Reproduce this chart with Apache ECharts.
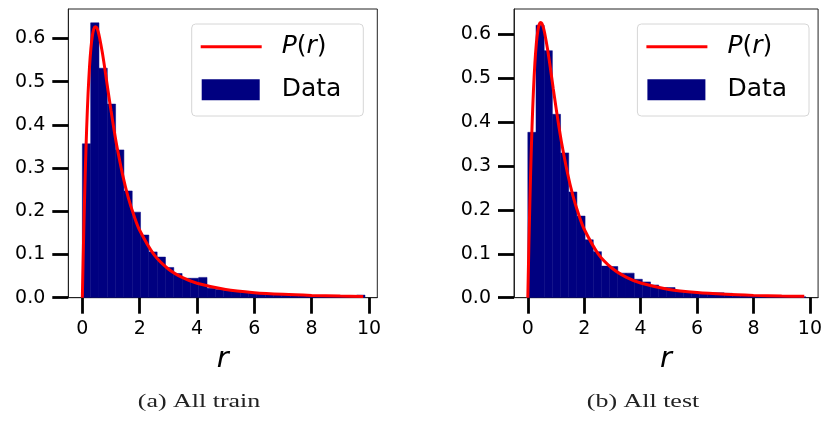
<!DOCTYPE html>
<html>
<head>
<meta charset="utf-8">
<script src="https://cdn.jsdelivr.net/npm/echarts@6/dist/echarts.min.js"></script>
<style>html,body{margin:0;padding:0;background:#fff;}#c{width:825px;height:433px;}</style>
</head>
<body>
<div id="c"></div>
<script>
// ---- data ----
const binStart = 0;
const binWidth = 0.29;
const trainHist = [0.356, 0.636, 0.531, 0.448, 0.342, 0.247, 0.198, 0.145, 0.106, 0.094,
  0.070, 0.056, 0.045, 0.045, 0.047, 0.022, 0.019, 0.017, 0.015, 0.013,
  0.012, 0.010, 0.009, 0.008, 0.007, 0.006, 0.006, 0.005, 0.004, 0.004,
  0.003, 0.003, 0.003, 0.006];
const testHist = [0.377, 0.621, 0.563, 0.418, 0.330, 0.241, 0.186, 0.132, 0.105, 0.072,
  0.071, 0.056, 0.056, 0.042, 0.036, 0.029, 0.023, 0.023, 0.013, 0.012,
  0.012, 0.011, 0.011, 0.011, 0.010, 0.005, 0.005, 0.004, 0.004, 0.003,
  0.003, 0.003, 0.002, 0.002];
const curveR = [0, 0.025, 0.05, 0.1, 0.15, 0.2, 0.25, 0.3, 0.35, 0.4, 0.45, 0.5, 0.55, 0.6, 0.7, 0.8, 0.9, 1.0, 1.1, 1.2, 1.4, 1.6, 1.8, 2.0, 2.5, 3.0, 3.5, 4.0, 5.0, 6.0, 7.0, 8.0, 9.0, 9.8];
const curveP = [0, 0.081, 0.156, 0.286, 0.391, 0.473, 0.534, 0.578, 0.606, 0.622, 0.627, 0.625, 0.616, 0.602, 0.566, 0.523, 0.477, 0.433, 0.391, 0.352, 0.286, 0.232, 0.190, 0.156, 0.0995, 0.0665, 0.0463, 0.0334, 0.0189, 0.0117, 0.0077, 0.0053, 0.00385, 0.00303];
const xTicks = [0, 2, 4, 6, 8, 10];
const yTicks = [0, 0.1, 0.2, 0.3, 0.4, 0.5, 0.6];
const captions = ['(a) All train', '(b) All test'];
const seriesNames = ['P(r)', 'Data'];

// ---- build ----
const FONT = 'DejaVu Sans';
const BAR = '#000080';
const RED = '#ff0000';
function histData(h) { return h.map((v, i) => [binStart + i * binWidth, binStart + (i + 1) * binWidth, v]); }
const curveData = curveR.map((r, i) => [r, curveP[i]]);

function renderBin(params, api) {
  const p0 = api.coord([api.value(0), 0]);
  const p1 = api.coord([api.value(1), api.value(2)]);
  return { type: 'rect', shape: { x: p0[0], y: p1[1], width: p1[0] - p0[0], height: p0[1] - p1[1] },
    style: { fill: BAR, stroke: BAR, lineWidth: 0.5 } };
}

const panels = [
  { left: 68.3, width: 309, ymax: 0.668, hist: trainHist, cap: captions[0], capX: 199 },
  { left: 514, width: 308.7, ymax: 0.658, hist: testHist, cap: captions[1], capX: 643 }
];
const TOP = 9, H = 288.7;

const grids = [], xAxes = [], yAxes = [], series = [], legends = [], graphics = [];
panels.forEach((p, k) => {
  grids.push({ left: p.left, top: TOP, width: p.width, height: H, show: true, borderColor: '#222', borderWidth: 1, containLabel: false });
  xAxes.push({ type: 'value', gridIndex: k, min: -0.49, max: 10.29,
    axisLine: { show: true, onZero: false, lineStyle: { color: '#222', width: 1 } },
    axisTick: { show: true, inside: false, length: 16, customValues: xTicks, lineStyle: { color: '#000', width: 2.8 } },
    axisLabel: { customValues: xTicks, margin: 22, fontSize: 19, fontFamily: FONT, color: '#000', formatter: v => String(v) },
    splitLine: { show: false },
    name: 'r', nameLocation: 'middle', nameGap: 47,
    nameTextStyle: { fontSize: 29, fontStyle: 'italic', fontFamily: FONT, color: '#000' } });
  yAxes.push({ type: 'value', gridIndex: k, min: 0, max: p.ymax,
    axisLine: { show: true, onZero: false, lineStyle: { color: '#222', width: 1 } },
    axisTick: { show: true, inside: false, length: 16, customValues: yTicks, lineStyle: { color: '#000', width: 2.8 } },
    axisLabel: { customValues: yTicks, margin: 23, fontSize: 19, fontFamily: FONT, color: '#000', formatter: v => v.toFixed(1) },
    splitLine: { show: false } });
  series.push({ name: seriesNames[1], type: 'custom', xAxisIndex: k, yAxisIndex: k, renderItem: renderBin,
    encode: { x: [0, 1], y: 2 }, data: histData(p.hist), itemStyle: { color: BAR }, z: 2, clip: true });
  series.push({ name: seriesNames[0], type: 'line', xAxisIndex: k, yAxisIndex: k, data: curveData,
    smooth: 0.3, symbol: 'none', lineStyle: { color: RED, width: 3 }, itemStyle: { color: RED }, z: 3 });

  const dx = p.left - 68.3;
  const rich = {
    s: { width: 15 },
    i: { fontStyle: 'italic', fontSize: 25, fontFamily: FONT, color: '#000' },
    n: { fontSize: 25, fontFamily: FONT, color: '#000' }
  };
  legends.push({ left: 200.7 + dx, top: 31.7, padding: 0, itemWidth: 61, itemHeight: 3, z: 20,
    data: [{ name: seriesNames[0], icon: 'rect', itemStyle: { color: RED } }], selectedMode: false,
    formatter: () => '{s|}{i|P}{n|(}{i|r}{n|)}',
    textStyle: { fontSize: 25, lineHeight: 30, fontFamily: FONT, color: '#000', rich: rich } });
  legends.push({ left: 201.7 + dx, top: 74.7, padding: 0, itemWidth: 58, itemHeight: 21, z: 20,
    data: [{ name: seriesNames[1], icon: 'rect', itemStyle: { color: BAR } }], selectedMode: false,
    formatter: () => '{s2|}{n|Data}',
    textStyle: { fontSize: 25, lineHeight: 30, fontFamily: FONT, color: '#000', rich: Object.assign({ s2: { width: 17 } }, rich) } });

  graphics.push({ type: 'rect', z: 10, shape: { x: 191.7 + dx, y: 24, width: 171.6, height: 92, r: 4 },
    style: { fill: 'rgba(255,255,255,0.8)', stroke: '#d6d6d6', lineWidth: 1 }, silent: true });
  graphics.push({ type: 'text', z: 10, x: p.capX, y: 402, scaleX: 1.33, originX: 0, originY: 0,
    style: { text: p.cap, fontFamily: 'Liberation Serif', fontSize: 19.5, fill: '#222', textAlign: 'center', textVerticalAlign: 'middle' } });
});

const chart = echarts.init(document.getElementById('c'), null, { renderer: 'canvas' });
chart.setOption({
  animation: false,
  grid: grids, xAxis: xAxes, yAxis: yAxes, series: series, legend: legends,
  graphic: { elements: graphics }
});
</script>
</body>
</html>
